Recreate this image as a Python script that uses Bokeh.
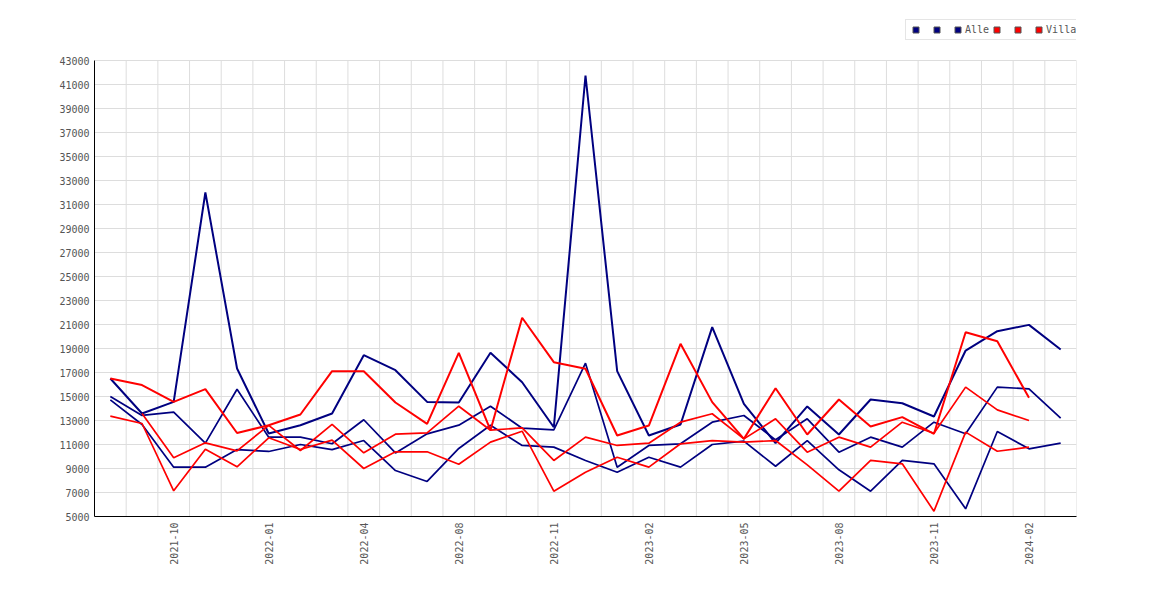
import math
from bokeh.plotting import figure
from bokeh.models import Range1d, FixedTicker, Legend, LegendItem
from bokeh.embed import file_html
from bokeh.resources import INLINE

NaN = float("nan")

months = ["2021-08", "2021-09", "2021-10", "2021-11", "2021-12", "2022-01",
          "2022-02", "2022-03", "2022-04", "2022-05", "2022-06", "2022-08",
          "2022-09", "2022-10", "2022-11", "2022-12", "2023-01", "2023-02",
          "2023-03", "2023-04", "2023-05", "2023-06", "2023-07", "2023-08",
          "2023-09", "2023-10", "2023-11", "2023-12", "2024-01", "2024-02",
          "2024-03"]
label_idx = [2, 5, 8, 11, 14, 17, 20, 23, 26, 29]

blue_1 = [16500, 13580, 14550, 32000, 17330, 11920, 12600, 13580, 18440, 17190,
          14550, 14500, 18640, 16190, 12440, 41750, 17110, 11750, 12670, 20780,
          14390, 11110, 14170, 11830, 14750, 14440, 13330, 18830, 20440, 20970,
          18920]
blue_2 = [15000, 13420, 13700, 11120, 15600, 11610, 11610, 11060, 13060, 10300,
          11890, 12610, 14190, 12360, 12220, 17780, 9110, 10920, 11060, 12860,
          13420, 11390, 13140, 10360, 11610, 10780, 12860, 11890, 15780, 15640,
          13190]
blue_3 = [14720, 12670, 9110, 9110, 10580, 10420, 11000, 10570, 11330, 8830,
          7920, 10670, 12600, 10920, 10780, 9670, 8690, 9940, 9110, 11000,
          11280, 9190, 11330, 8890, 7110, 9670, 9390, 5640, 12080, 10640,
          11110]
red_1 = [16500, 15950, 14550, 15610, 11960, 12600, 13500, 17110, 17110, 14500,
         12720, 18640, 12190, 21560, 17860, 17310, 11750, 12580, 19390, 14530,
         11470, 15690, 11830, 14750, 12500, 13280, 11890, 20360, 19610, 14890,
         NaN]
red_2 = [NaN, 13580, 9890, 11140, 10470, 12600, 10500, 12670, 10310, 11860,
         11970, 14190, 12190, 12390, 9670, 11610, 10920, 11110, 12860, 13560,
         11470, 13140, 10360, 11610, 10780, 12860, 11940, 15780, 13890, 13000,
         NaN]
red_3 = [13360, 12750, 7140, 10610, 9140, 11560, 10580, 11360, 9000, 10390,
         10390, 9360, 11200, 12110, 7110, 8690, 9940, 9110, 11060, 11330,
         11190, 11330, 9300, 7110, 9670, 9390, 5440, 12030, 10440, 10780,
         NaN]

legend_labels = [" ", " ", "Alle", " ", " ", "Villa"]
y_ticks = list(range(5000, 43001, 2000))
Y_MIN, Y_MAX = 5000, 43000
Y_TOP = 46750  # headroom above the axis for the legend

NAVY = "#000080"
RED = "#ff0000"
FONT = "DejaVu Sans Mono"
TXT = "#555555"

xs = list(range(len(months)))

p = figure(width=1108, height=576, output_backend="svg", toolbar_location=None,
           x_range=Range1d(-0.5, len(months) - 0.5), y_range=Range1d(Y_MIN, Y_TOP),
           min_border_left=94, min_border_right=32, min_border_top=15,
           min_border_bottom=60)
p.outline_line_color = None
p.background_fill_color = "white"

# vertical grid lines at category boundaries, limited to the axis span
bounds_x = [i + 0.5 for i in range(len(months))]
p.segment(x0=bounds_x, y0=[Y_MIN] * len(bounds_x), x1=bounds_x,
          y1=[Y_MAX] * len(bounds_x), line_color="#dddddd", line_width=1)

series = [(blue_1, NAVY, 2.0), (blue_2, NAVY, 1.7), (blue_3, NAVY, 1.7),
          (red_1, RED, 2.0), (red_2, RED, 1.7), (red_3, RED, 1.7)]
line_renderers = []
for ys, col, lw in series:
    line_renderers.append(p.line(xs, ys, line_color=col, line_width=lw))

# axes
p.yaxis.ticker = FixedTicker(ticks=y_ticks)
p.yaxis.bounds = (Y_MIN, Y_MAX)
p.xaxis.ticker = FixedTicker(ticks=label_idx)
p.xaxis.major_label_overrides = {i: months[i] for i in label_idx}
p.xaxis.major_label_orientation = math.pi / 2
for ax in (p.xaxis, p.yaxis):
    ax.major_tick_in = 0
    ax.major_tick_out = 0
    ax.minor_tick_in = 0
    ax.minor_tick_out = 0
    ax.axis_line_color = "black"
    ax.axis_line_width = 1
    ax.major_label_text_font = FONT
    ax.major_label_text_font_size = "10px"
    ax.major_label_text_color = TXT
    ax.major_label_standoff = 6
p.yaxis.major_label_standoff = 5

p.ygrid.ticker = FixedTicker(ticks=y_ticks)
p.ygrid.grid_line_color = "#dddddd"
p.xgrid.grid_line_color = None

# legend with square swatches (hidden helper renderers at each series' first point)
items = []
cols = [NAVY, NAVY, NAVY, RED, RED, RED]
for lab, col, (ys, _, _) in zip(legend_labels, cols, series):
    r = p.scatter(x=[1], y=[ys[1]], marker="square", size=6, fill_color=col,
                  line_color="#555555", line_width=1)
    r.visible = False
    items.append(LegendItem(label=lab, renderers=[r]))

legend = Legend(items=items, orientation="horizontal", location=(811, 476),
                glyph_width=15, glyph_height=15, label_standoff=0, spacing=0,
                label_height=15, label_width=6, padding=2, margin=0,
                label_text_font=FONT, label_text_font_size="10px",
                label_text_color=TXT, border_line_color="#cccccc",
                border_line_width=1, background_fill_color="white",
                background_fill_alpha=1.0, inactive_fill_alpha=0.0)
p.add_layout(legend, "center")

open("out.html", "w").write(file_html(p, INLINE))
